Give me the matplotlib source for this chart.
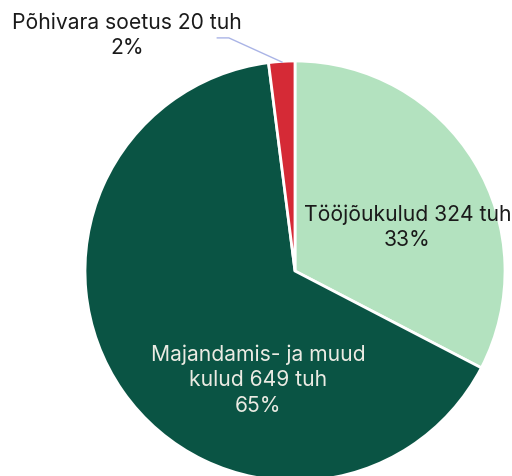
import matplotlib
matplotlib.use("Agg")
import matplotlib.pyplot as plt

categories = ["Tööjõukulud", "Majandamis- ja muud\nkulud", "Põhivara soetus"]
values = [324, 649, 20]
percents = ["33%", "65%", "2%"]
colors = ["#b3e2bf", "#0a5444", "#d52a36"]
text_colors = ["#1a1a1a", "#ebebe3", "#1a1a1a"]

plt.rcParams['font.family'] = ['Inter', 'DejaVu Sans']

W, H = 512, 477
fig = plt.figure(figsize=(W/100, H/100), dpi=100)
cx, cy, R = 295, 272, 210
ax = fig.add_axes([(cx-R)/W, (H-cy-R)/H, 2*R/W, 2*R/H])

ax.pie(values, colors=colors, startangle=90, counterclock=False, radius=1,
       wedgeprops=dict(edgecolor='white', linewidth=2))
ax.set_xlim(-1, 1)
ax.set_ylim(-1, 1)
ax.set_aspect('auto')
ax.axis('off')

fs = 15.2
ls = 1.32
labels = [f"{c} {v} tuh\n{p}" for c, v, p in zip(categories, values, percents)]
ax.text(0.535, 0.215, labels[0], ha='center', va='center', fontsize=fs, color=text_colors[0], linespacing=ls)
ax.text(-0.175, -0.515, labels[1], ha='center', va='center', fontsize=fs, color=text_colors[1], linespacing=ls)
ax.text(-0.80, 1.125, labels[2], ha='center', va='center', fontsize=fs, color=text_colors[2], linespacing=ls, clip_on=False)
ax.plot([-0.37, -0.315, -0.062], [1.11, 1.11, 0.995], color='#aab4e6', lw=1, clip_on=False)

fig.savefig("out.png", dpi=100)
